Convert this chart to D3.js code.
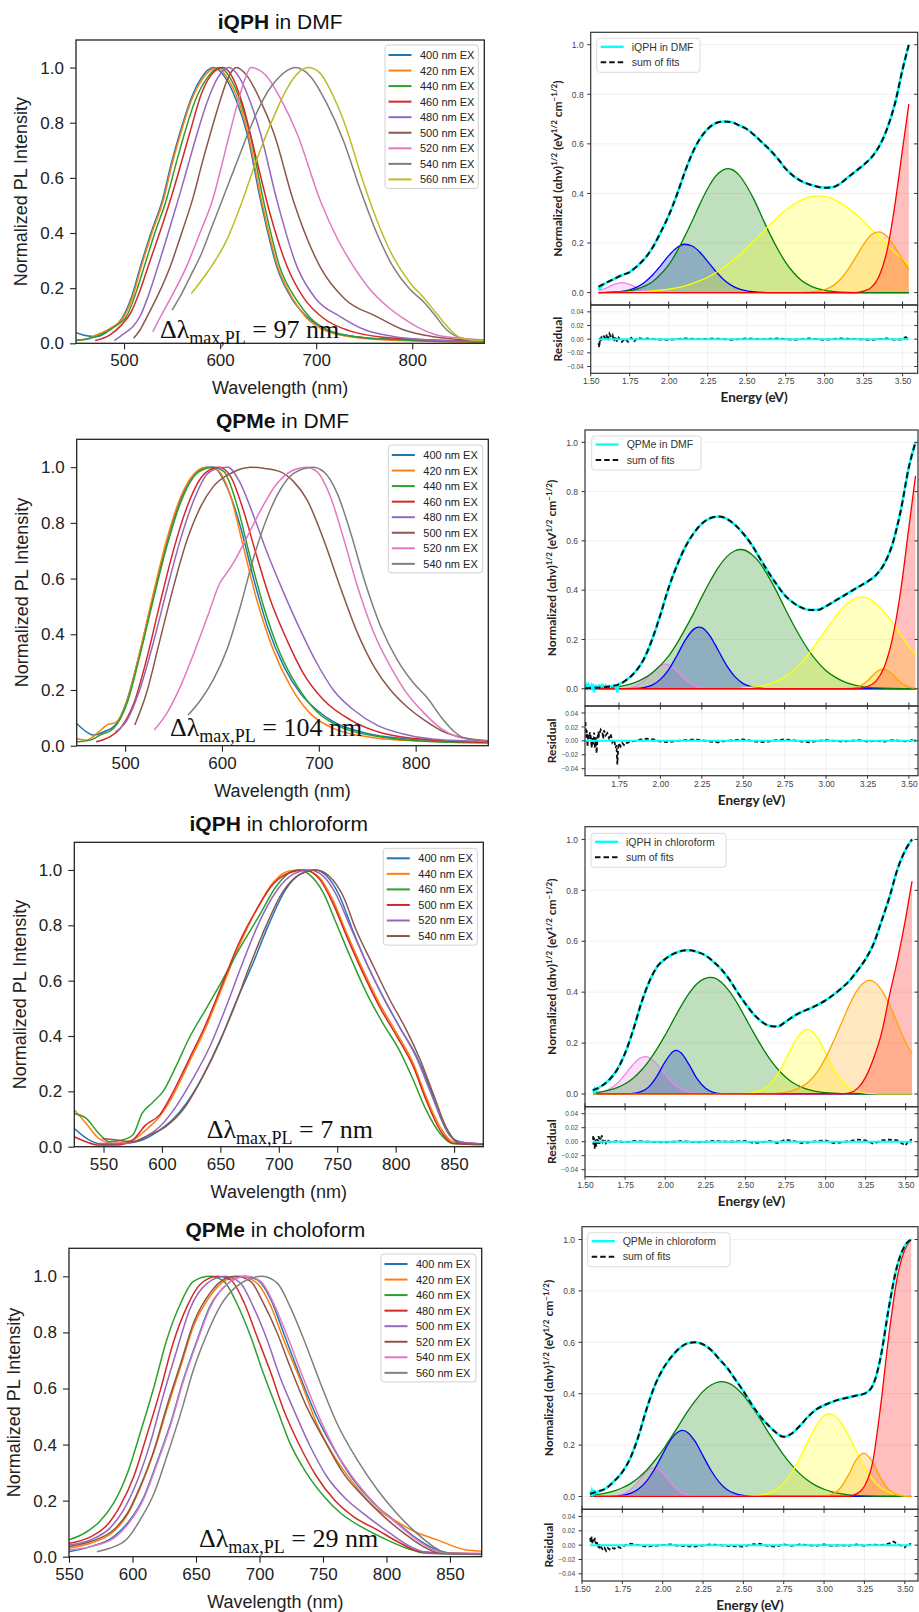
<!DOCTYPE html>
<html><head><meta charset="utf-8">
<script src="https://cdn.jsdelivr.net/npm/d3@7"></script>
<style>body{margin:0;background:#fff}</style>
</head><body>
<script>
// ---------- PL spectra (wavelength nm, normalized intensity) ----------
const iqphDmfLabels = ["400 nm EX","420 nm EX","440 nm EX","460 nm EX","480 nm EX","500 nm EX","520 nm EX","540 nm EX","560 nm EX"];
const iqphDmfSpectra = [
 [[450,0.038],[461,0.027],[471,0.024],[485,0.048],[499,0.097],[508,0.17],[517,0.278],[528,0.4],[540,0.52],[549,0.65],[558,0.762],[569,0.88],[580,0.96],[593,1.0],[604,0.97],[617,0.88],[628,0.762],[642,0.52],[659,0.278],[675,0.16],[690,0.097],[710,0.05],[735,0.027],[788,0.012],[875,0.006]],
 [[450,0.012],[460,0.015],[471,0.03],[486,0.055],[500,0.097],[509,0.17],[518,0.278],[529,0.4],[541,0.52],[550,0.65],[559,0.762],[570,0.88],[582,0.96],[597,1.0],[606,0.97],[619,0.88],[629,0.762],[643,0.52],[660,0.278],[676,0.16],[690,0.092],[710,0.045],[735,0.024],[788,0.01],[875,0.004]],
 [[450,0.01],[465,0.018],[475,0.03],[490,0.06],[503,0.1],[512,0.18],[521,0.278],[532,0.4],[544,0.52],[554,0.65],[563,0.762],[574,0.88],[586,0.96],[600,1.0],[609,0.97],[621,0.88],[631,0.762],[645,0.52],[662,0.278],[679,0.16],[694,0.092],[714,0.045],[740,0.024],[790,0.012],[875,0.005]],
 [[470,0.01],[485,0.03],[497,0.065],[507,0.11],[516,0.185],[525,0.278],[537,0.4],[550,0.54],[560,0.66],[569,0.77],[580,0.9],[590,0.97],[603,1.0],[612,0.97],[624,0.86],[638,0.665],[652,0.47],[669,0.285],[687,0.165],[708,0.09],[735,0.045],[770,0.022],[822,0.012],[875,0.008]],
 [[490,0.01],[500,0.035],[509,0.06],[517,0.1],[525,0.17],[534,0.265],[546,0.4],[558,0.54],[567,0.65],[576,0.76],[587,0.88],[597,0.96],[609,1.0],[619,0.97],[631,0.88],[642,0.762],[659,0.52],[680,0.278],[700,0.16],[725,0.097],[750,0.05],[780,0.025],[820,0.012],[875,0.006]],
 [[510,0.018],[517,0.05],[524,0.097],[536,0.18],[548,0.278],[560,0.4],[572,0.53],[581,0.65],[590,0.762],[600,0.88],[608,0.96],[617,1.0],[628,0.97],[642,0.88],[656,0.762],[676,0.52],[704,0.278],[730,0.16],[763,0.097],[790,0.05],[820,0.025],[850,0.014],[875,0.01]],
 [[530,0.042],[537,0.09],[551,0.18],[565,0.278],[579,0.4],[593,0.53],[602,0.65],[610,0.762],[619,0.88],[626,0.96],[632,1.0],[648,0.97],[664,0.88],[680,0.762],[704,0.52],[722,0.38],[739,0.278],[755,0.2],[772,0.14],[790,0.092],[806,0.058],[822,0.034],[850,0.018],[875,0.012]],
 [[550,0.12],[560,0.18],[570,0.25],[580,0.32],[590,0.41],[600,0.5],[610,0.59],[620,0.68],[630,0.77],[640,0.85],[650,0.915],[660,0.96],[670,0.99],[678,1.0],[694,0.968],[711,0.87],[728,0.738],[746,0.556],[763,0.4],[780,0.278],[798,0.194],[812,0.15],[824,0.1],[836,0.048],[850,0.02],[862,0.012],[875,0.01]],
 [[570,0.18],[586,0.254],[607,0.375],[621,0.496],[638,0.665],[656,0.823],[669,0.92],[683,0.986],[692,1.0],[704,0.98],[718,0.895],[732,0.774],[746,0.617],[763,0.448],[780,0.314],[798,0.218],[812,0.165],[826,0.105],[840,0.048],[850,0.02],[862,0.012],[875,0.01]]
];

const qpmeDmfLabels = ["400 nm EX","420 nm EX","440 nm EX","460 nm EX","480 nm EX","500 nm EX","520 nm EX","540 nm EX"];
const qpmeDmfSpectra = [
 [[450,0.08],[460,0.05],[467,0.038],[478,0.05],[490,0.074],[502,0.164],[515,0.332],[529,0.535],[543,0.727],[557,0.882],[571,0.972],[585,1.0],[591,1.0],[605,0.93],[619,0.787],[633,0.595],[647,0.427],[664,0.284],[681,0.188],[698,0.128],[715,0.086],[750,0.044],[785,0.026],[819,0.018],[875,0.012]],
 [[450,0.026],[460,0.02],[471,0.044],[481,0.074],[490,0.083],[502,0.16],[515,0.335],[529,0.545],[543,0.74],[557,0.89],[571,0.975],[583,1.0],[595,0.99],[609,0.895],[622,0.715],[636,0.523],[653,0.344],[671,0.212],[691,0.116],[715,0.062],[750,0.032],[785,0.02],[875,0.012]],
 [[450,0.014],[464,0.02],[474,0.038],[488,0.062],[502,0.152],[515,0.32],[529,0.523],[543,0.715],[557,0.87],[571,0.966],[584,0.996],[591,1.0],[602,0.984],[615,0.87],[629,0.679],[643,0.5],[660,0.332],[678,0.212],[698,0.122],[726,0.062],[767,0.03],[819,0.014],[875,0.01]],
 [[470,0.014],[484,0.032],[495,0.062],[509,0.152],[522,0.308],[536,0.511],[550,0.703],[564,0.858],[578,0.96],[591,0.996],[597,1.0],[609,0.966],[622,0.846],[636,0.679],[650,0.523],[667,0.38],[684,0.26],[705,0.164],[733,0.092],[767,0.044],[819,0.02],[875,0.012]],
 [[490,0.05],[502,0.092],[515,0.2],[529,0.368],[543,0.559],[557,0.739],[571,0.882],[584,0.972],[598,0.998],[606,1.0],[619,0.942],[633,0.822],[647,0.69],[664,0.547],[681,0.415],[698,0.296],[715,0.2],[736,0.128],[760,0.074],[785,0.044],[819,0.023],[875,0.015]],
 [[510,0.074],[522,0.188],[536,0.38],[550,0.571],[564,0.739],[578,0.858],[591,0.93],[609,0.978],[630,1.0],[643,0.996],[660,0.984],[674,0.948],[688,0.882],[705,0.739],[722,0.571],[740,0.404],[757,0.284],[774,0.2],[791,0.14],[809,0.092],[829,0.05],[847,0.03],[875,0.018]],
 [[530,0.056],[543,0.116],[557,0.212],[571,0.332],[585,0.463],[598,0.585],[606,0.625],[614,0.67],[626,0.75],[640,0.846],[657,0.942],[674,0.99],[687,1.0],[698,0.984],[712,0.894],[726,0.739],[740,0.571],[757,0.404],[774,0.284],[791,0.188],[809,0.116],[826,0.062],[843,0.032],[875,0.015]],
 [[565,0.11],[578,0.164],[591,0.236],[605,0.344],[619,0.5],[633,0.679],[647,0.822],[660,0.918],[674,0.978],[694,1.0],[705,0.984],[719,0.906],[733,0.763],[747,0.595],[764,0.427],[781,0.308],[798,0.224],[812,0.172],[826,0.104],[840,0.05],[850,0.028],[875,0.015]]
];

const iqphChlLabels = ["400 nm EX","440 nm EX","460 nm EX","500 nm EX","520 nm EX","540 nm EX"];
const iqphChlSpectra = [
 [[525,0.066],[538,0.024],[552,0.008],[569,0.012],[583,0.024],[598,0.06],[609,0.097],[621,0.157],[635,0.254],[649,0.374],[663,0.519],[678,0.664],[692,0.809],[706,0.93],[718,0.984],[731,1.0],[741,0.978],[752,0.906],[763,0.785],[775,0.664],[789,0.543],[803,0.435],[818,0.326],[829,0.217],[838,0.109],[846,0.042],[855,0.018],[875,0.01]],
 [[525,0.133],[535,0.085],[546,0.03],[558,0.012],[575,0.024],[586,0.06],[598,0.109],[609,0.181],[623,0.302],[638,0.435],[652,0.58],[666,0.725],[681,0.857],[695,0.954],[709,0.996],[721,1.0],[735,0.972],[746,0.894],[758,0.773],[772,0.64],[786,0.519],[801,0.41],[815,0.302],[826,0.181],[838,0.072],[849,0.018],[875,0.01]],
 [[525,0.12],[535,0.103],[546,0.048],[555,0.018],[566,0.024],[575,0.042],[583,0.12],[592,0.16],[601,0.2],[612,0.29],[623,0.39],[638,0.5],[652,0.604],[666,0.713],[683,0.833],[698,0.942],[712,0.996],[718,1.0],[726,0.984],[738,0.918],[749,0.809],[761,0.688],[775,0.556],[789,0.447],[803,0.35],[815,0.242],[826,0.133],[838,0.048],[849,0.012],[875,0.01]],
 [[525,0.036],[535,0.018],[546,0.006],[561,0.006],[575,0.024],[586,0.078],[598,0.115],[609,0.193],[623,0.314],[638,0.447],[652,0.592],[666,0.737],[681,0.857],[695,0.948],[709,0.99],[722,1.0],[735,0.966],[746,0.882],[758,0.761],[772,0.628],[786,0.507],[801,0.399],[815,0.29],[826,0.169],[838,0.06],[849,0.012],[875,0.008]],
 [[546,0.012],[569,0.012],[583,0.03],[598,0.072],[612,0.145],[626,0.242],[641,0.362],[655,0.507],[669,0.664],[683,0.809],[698,0.924],[712,0.984],[726,1.0],[738,0.978],[749,0.912],[761,0.797],[775,0.664],[789,0.543],[803,0.435],[818,0.32],[829,0.205],[841,0.085],[852,0.018],[875,0.01]],
 [[549,0.03],[561,0.024],[575,0.018],[589,0.042],[603,0.072],[618,0.133],[632,0.23],[646,0.35],[661,0.495],[675,0.652],[689,0.797],[703,0.918],[718,0.984],[732,1.0],[743,0.978],[755,0.906],[766,0.785],[781,0.652],[795,0.531],[809,0.423],[821,0.314],[832,0.193],[843,0.072],[855,0.012],[875,0.008]]
];

const qpmeChlLabels = ["400 nm EX","420 nm EX","460 nm EX","480 nm EX","500 nm EX","520 nm EX","540 nm EX","560 nm EX"];
const qpmeChlSpectra = [
 [[550,0.018],[567,0.036],[585,0.071],[598,0.131],[609,0.214],[619,0.333],[630,0.476],[640,0.631],[651,0.774],[661,0.893],[674,0.97],[688,1.0],[698,0.988],[709,0.917],[719,0.798],[732,0.643],[745,0.5],[759,0.381],[774,0.274],[790,0.19],[806,0.131],[822,0.071],[837,0.03],[851,0.012],[875,0.01]],
 [[550,0.03],[567,0.048],[585,0.089],[596,0.149],[606,0.244],[617,0.375],[627,0.524],[638,0.679],[648,0.821],[661,0.929],[674,0.988],[685,1.0],[698,0.976],[709,0.893],[719,0.774],[732,0.631],[745,0.476],[759,0.357],[774,0.262],[790,0.179],[806,0.131],[822,0.09],[840,0.06],[862,0.025],[875,0.02]],
 [[550,0.06],[564,0.089],[574,0.125],[585,0.19],[596,0.298],[606,0.44],[617,0.607],[627,0.774],[638,0.905],[648,0.982],[661,1.0],[672,0.982],[682,0.905],[693,0.786],[703,0.655],[714,0.524],[724,0.405],[737,0.298],[751,0.214],[764,0.155],[780,0.107],[798,0.065],[816,0.03],[832,0.012],[875,0.008]],
 [[550,0.048],[567,0.071],[580,0.113],[590,0.179],[601,0.286],[611,0.429],[622,0.595],[632,0.762],[643,0.893],[653,0.97],[667,1.0],[677,0.988],[688,0.905],[698,0.786],[709,0.655],[719,0.524],[732,0.393],[745,0.286],[759,0.202],[774,0.143],[793,0.095],[811,0.048],[827,0.018],[875,0.01]],
 [[550,0.042],[567,0.06],[582,0.101],[593,0.167],[603,0.262],[614,0.405],[624,0.571],[635,0.738],[645,0.881],[659,0.976],[673,1.0],[685,0.976],[695,0.893],[706,0.774],[716,0.643],[727,0.524],[740,0.393],[753,0.286],[769,0.202],[785,0.143],[803,0.083],[819,0.036],[835,0.012],[875,0.01]],
 [[550,0.036],[567,0.054],[585,0.095],[596,0.155],[606,0.25],[617,0.381],[627,0.536],[638,0.69],[648,0.833],[661,0.94],[674,0.994],[681,1.0],[693,0.982],[703,0.905],[714,0.798],[724,0.679],[737,0.536],[751,0.417],[766,0.298],[782,0.214],[798,0.143],[814,0.083],[829,0.036],[843,0.012],[875,0.01]],
 [[550,0.024],[567,0.036],[585,0.065],[598,0.125],[609,0.208],[619,0.327],[630,0.47],[640,0.625],[651,0.768],[661,0.887],[674,0.97],[690,1.0],[701,0.982],[711,0.905],[722,0.786],[735,0.631],[748,0.488],[761,0.369],[777,0.262],[793,0.179],[808,0.119],[824,0.06],[837,0.024],[850,0.012],[875,0.012]],
 [[572,0.018],[582,0.03],[596,0.065],[606,0.131],[617,0.226],[627,0.357],[638,0.512],[648,0.667],[659,0.798],[669,0.893],[682,0.964],[702,1.0],[714,0.976],[724,0.893],[735,0.774],[748,0.619],[761,0.476],[777,0.345],[793,0.238],[808,0.155],[824,0.083],[837,0.036],[848,0.012],[875,0.01]]
];

// ---------- Absorption (Tauc) fits: energy eV, normalized (ahv)^1/2 ----------
// band order: violet, blue, green, yellow, orange, red
const iqphDmfBands = [
 [[1.55,0.007],[1.60,0.018],[1.65,0.033],[1.70,0.04],[1.75,0.033],[1.80,0.018],[1.85,0.007],[1.90,0.002],[1.95,0],[3.54,0]],
 [[1.55,0],[1.65,0.002],[1.70,0.005],[1.75,0.011],[1.80,0.023],[1.85,0.044],[1.90,0.073],[1.95,0.11],[2.00,0.149],[2.05,0.18],[2.10,0.195],[2.15,0.188],[2.20,0.163],[2.25,0.126],[2.30,0.087],[2.35,0.054],[2.40,0.03],[2.45,0.015],[2.50,0.007],[2.55,0.003],[2.60,0.001],[2.65,0],[3.54,0]],
 [[1.55,0],[1.60,0.001],[1.70,0.004],[1.75,0.008],[1.80,0.015],[1.85,0.027],[1.90,0.046],[1.95,0.075],[2.00,0.112],[2.05,0.162],[2.10,0.223],[2.15,0.288],[2.20,0.357],[2.25,0.42],[2.30,0.469],[2.35,0.495],[2.38,0.5],[2.40,0.498],[2.45,0.475],[2.50,0.43],[2.55,0.372],[2.60,0.303],[2.65,0.235],[2.70,0.175],[2.75,0.122],[2.80,0.081],[2.85,0.05],[2.90,0.03],[2.95,0.017],[3.00,0.009],[3.05,0.005],[3.10,0.002],[3.20,0],[3.54,0]],
 [[1.55,0],[1.60,0],[1.70,0.001],[1.80,0.003],[1.90,0.007],[2.00,0.014],[2.10,0.026],[2.20,0.048],[2.25,0.062],[2.30,0.08],[2.35,0.1],[2.40,0.125],[2.45,0.151],[2.50,0.181],[2.55,0.211],[2.60,0.243],[2.65,0.274],[2.70,0.305],[2.75,0.332],[2.80,0.355],[2.85,0.373],[2.90,0.385],[2.95,0.39],[3.00,0.388],[3.05,0.379],[3.10,0.363],[3.15,0.342],[3.20,0.316],[3.25,0.288],[3.30,0.256],[3.35,0.225],[3.40,0.192],[3.45,0.163],[3.50,0.135],[3.54,0.114]],
 [[1.55,0],[2.85,0],[2.90,0.002],[2.95,0.005],[3.00,0.012],[3.05,0.026],[3.10,0.053],[3.15,0.093],[3.20,0.143],[3.25,0.195],[3.30,0.233],[3.345,0.245],[3.40,0.227],[3.45,0.185],[3.50,0.132],[3.54,0.093]],
 [[1.55,0],[3.20,0],[3.25,0.006],[3.30,0.021],[3.35,0.067],[3.40,0.168],[3.45,0.35],[3.50,0.58],[3.54,0.76]]
];
const iqphDmfFit = [[1.55,0.024],[1.60,0.04],[1.65,0.055],[1.70,0.07],[1.75,0.083],[1.80,0.108],[1.85,0.14],[1.90,0.185],[1.95,0.245],[2.00,0.31],[2.05,0.39],[2.10,0.48],[2.15,0.56],[2.20,0.62],[2.25,0.66],[2.30,0.683],[2.35,0.69],[2.40,0.688],[2.45,0.675],[2.50,0.66],[2.55,0.635],[2.60,0.605],[2.65,0.575],[2.70,0.54],[2.75,0.5],[2.80,0.47],[2.85,0.45],[2.90,0.437],[2.95,0.428],[3.00,0.423],[3.05,0.425],[3.10,0.44],[3.15,0.465],[3.20,0.49],[3.25,0.515],[3.30,0.545],[3.35,0.59],[3.40,0.66],[3.45,0.76],[3.50,0.9],[3.54,1.0]];
const iqphDmfDataHead = [[1.55,0.012],[1.555,0.02],[1.56,0.016],[1.57,0.026],[1.58,0.03],[1.59,0.036]];
const iqphDmfResidual = [[1.55,-0.006],[1.555,-0.012],[1.56,0.002],[1.565,-0.004],[1.57,0.004],[1.58,0.006],[1.59,0.002],[1.60,0.007],[1.61,-0.002],[1.62,0.008],[1.63,0.003],[1.64,0.006],[1.65,-0.003],[1.66,0.004],[1.67,-0.004],[1.68,0.002],[1.69,-0.002],[1.70,-0.004],[1.72,0.001],[1.74,-0.004],[1.76,0.002],[1.78,-0.003],[1.80,0.002],[1.82,0.001],[1.84,-0.001],[1.86,0.001],[1.90,0],[2.0,-0.001],[2.1,0.001],[2.2,0],[2.3,0.001],[2.4,-0.001],[2.5,0.001],[2.6,0],[2.7,0.001],[2.8,-0.001],[2.9,0.001],[3.0,-0.001],[3.1,0.001],[3.2,0],[3.3,-0.001],[3.4,0.001],[3.45,-0.001],[3.5,0],[3.52,0.003],[3.54,0]];

const qpmeDmfBands = [
 [[1.545,0],[1.75,0],[1.80,0.0025],[1.85,0.011],[1.90,0.031],[1.95,0.064],[2.00,0.094],[2.03,0.1],[2.05,0.097],[2.10,0.071],[2.15,0.037],[2.20,0.014],[2.25,0.004],[2.30,0.001],[2.35,0],[3.54,0]],
 [[1.545,0],[1.80,0],[1.85,0.0015],[1.90,0.005],[1.95,0.015],[2.00,0.038],[2.05,0.078],[2.10,0.135],[2.15,0.197],[2.20,0.241],[2.233,0.25],[2.25,0.248],[2.30,0.214],[2.35,0.155],[2.40,0.095],[2.45,0.049],[2.50,0.021],[2.55,0.008],[2.60,0.002],[2.65,0],[3.54,0]],
 [[1.545,0],[1.60,0.0015],[1.70,0.005],[1.75,0.009],[1.80,0.016],[1.85,0.026],[1.90,0.042],[1.95,0.064],[2.00,0.095],[2.05,0.133],[2.10,0.184],[2.15,0.243],[2.20,0.305],[2.25,0.373],[2.30,0.436],[2.35,0.493],[2.40,0.535],[2.45,0.56],[2.484,0.565],[2.50,0.564],[2.55,0.546],[2.60,0.511],[2.65,0.458],[2.70,0.397],[2.75,0.329],[2.80,0.264],[2.85,0.204],[2.90,0.151],[2.95,0.108],[3.00,0.073],[3.05,0.049],[3.10,0.031],[3.15,0.019],[3.20,0.011],[3.25,0.006],[3.30,0.0035],[3.40,0.001],[3.54,0]],
 [[1.545,0],[2.45,0],[2.50,0.003],[2.55,0.006],[2.60,0.01],[2.65,0.018],[2.70,0.03],[2.75,0.048],[2.80,0.074],[2.85,0.105],[2.90,0.146],[2.95,0.192],[3.00,0.241],[3.05,0.287],[3.10,0.328],[3.15,0.357],[3.215,0.372],[3.25,0.368],[3.30,0.347],[3.35,0.312],[3.40,0.27],[3.45,0.221],[3.50,0.172],[3.54,0.138]],
 [[1.545,0],[3.10,0],[3.15,0.002],[3.20,0.009],[3.25,0.032],[3.30,0.066],[3.345,0.081],[3.40,0.059],[3.45,0.026],[3.50,0.007],[3.54,0.002]],
 [[1.545,0],[3.15,0],[3.20,0.002],[3.25,0.009],[3.30,0.03],[3.35,0.086],[3.40,0.202],[3.45,0.395],[3.50,0.655],[3.54,0.864]]
];
const qpmeDmfFit = [[1.545,0.002],[1.60,0.004],[1.65,0.006],[1.70,0.01],[1.75,0.018],[1.80,0.038],[1.85,0.07],[1.90,0.12],[1.95,0.2],[2.00,0.3],[2.05,0.41],[2.10,0.5],[2.15,0.575],[2.20,0.63],[2.25,0.67],[2.30,0.692],[2.35,0.699],[2.40,0.69],[2.45,0.665],[2.50,0.63],[2.55,0.585],[2.60,0.53],[2.65,0.475],[2.70,0.425],[2.75,0.38],[2.80,0.35],[2.85,0.33],[2.90,0.32],[2.95,0.32],[3.00,0.335],[3.05,0.355],[3.10,0.375],[3.15,0.395],[3.20,0.415],[3.25,0.435],[3.30,0.46],[3.35,0.505],[3.40,0.585],[3.45,0.72],[3.50,0.9],[3.54,1.0]];
const qpmeDmfDataHead = [[1.545,0.02],[1.55,0.008],[1.555,0.015],[1.56,0.004],[1.565,0.012],[1.57,-0.005],[1.575,0.01],[1.58,0.006],[1.585,0.014],[1.59,0.004],[1.595,0.01],[1.60,-0.015],[1.605,0.008],[1.61,0.012],[1.62,0.004],[1.63,0.014],[1.64,0.01],[1.65,0.016],[1.66,0.008],[1.67,0.014],[1.68,0.01],[1.69,0.012],[1.70,0.008],[1.71,0.012],[1.72,0.01],[1.73,0.006],[1.74,-0.015],[1.745,0.012],[1.75,0.02],[1.77,0.024]];
const qpmeDmfResidual = [[1.548,0.027],[1.552,0.005],[1.556,0.015],[1.56,-0.008],[1.565,0.01],[1.57,0.003],[1.575,0.012],[1.58,0.006],[1.585,-0.01],[1.59,0.004],[1.595,-0.005],[1.60,0.012],[1.605,-0.01],[1.61,0.005],[1.615,-0.018],[1.62,0.002],[1.625,0.013],[1.63,0.008],[1.64,0.016],[1.65,0.012],[1.655,0.003],[1.66,0.015],[1.67,0.008],[1.68,0.011],[1.69,0.004],[1.70,0.01],[1.71,-0.002],[1.72,0.002],[1.73,-0.01],[1.735,-0.006],[1.74,-0.034],[1.745,-0.012],[1.75,-0.003],[1.76,-0.008],[1.77,-0.003],[1.78,-0.006],[1.79,-0.002],[1.80,-0.003],[1.82,-0.001],[1.85,0],[1.88,0.002],[1.92,0.003],[1.96,0.002],[2.0,-0.001],[2.05,-0.002],[2.1,0],[2.15,0.001],[2.2,0.002],[2.25,0.001],[2.3,-0.001],[2.35,-0.002],[2.4,0],[2.45,0.001],[2.5,0.002],[2.55,0],[2.6,-0.002],[2.65,-0.001],[2.7,0.001],[2.75,0.002],[2.8,0.001],[2.85,-0.001],[2.9,-0.002],[2.95,0],[3.0,0.001],[3.05,0],[3.1,-0.001],[3.15,0],[3.2,0.001],[3.25,-0.001],[3.3,0],[3.35,-0.001],[3.4,0.001],[3.45,0],[3.5,-0.001],[3.53,0.003],[3.54,-0.001]];

const iqphChlBands = [
 [[1.55,0.002],[1.60,0.006],[1.65,0.018],[1.70,0.041],[1.75,0.077],[1.80,0.116],[1.85,0.143],[1.875,0.147],[1.90,0.143],[1.95,0.116],[2.00,0.077],[2.05,0.041],[2.10,0.018],[2.15,0.006],[2.20,0.002],[2.25,0],[3.54,0]],
 [[1.55,0],[1.75,0],[1.80,0.002],[1.85,0.009],[1.90,0.029],[1.95,0.071],[2.00,0.127],[2.05,0.167],[2.069,0.171],[2.10,0.161],[2.15,0.114],[2.20,0.059],[2.25,0.023],[2.30,0.006],[2.35,0.0013],[2.40,0],[3.54,0]],
 [[1.55,0.0045],[1.60,0.008],[1.65,0.015],[1.70,0.025],[1.75,0.04],[1.80,0.062],[1.85,0.092],[1.90,0.131],[1.95,0.178],[2.00,0.231],[2.05,0.289],[2.10,0.346],[2.15,0.396],[2.20,0.434],[2.25,0.454],[2.28,0.458],[2.30,0.457],[2.35,0.439],[2.40,0.404],[2.45,0.356],[2.50,0.3],[2.55,0.243],[2.60,0.189],[2.65,0.14],[2.70,0.099],[2.75,0.067],[2.80,0.043],[2.85,0.027],[2.90,0.016],[2.95,0.009],[3.00,0.005],[3.10,0.001],[3.20,0],[3.54,0]],
 [[1.55,0],[2.45,0],[2.50,0.0014],[2.55,0.005],[2.60,0.015],[2.65,0.036],[2.70,0.075],[2.75,0.133],[2.80,0.195],[2.85,0.242],[2.887,0.254],[2.90,0.252],[2.95,0.221],[3.00,0.163],[3.05,0.101],[3.10,0.053],[3.15,0.023],[3.20,0.009],[3.25,0.003],[3.30,0.001],[3.35,0],[3.54,0]],
 [[1.55,0],[2.65,0],[2.70,0.003],[2.75,0.006],[2.80,0.014],[2.85,0.028],[2.90,0.051],[2.95,0.088],[3.00,0.141],[3.05,0.207],[3.10,0.279],[3.15,0.351],[3.20,0.41],[3.25,0.442],[3.274,0.446],[3.30,0.442],[3.35,0.408],[3.40,0.349],[3.45,0.276],[3.50,0.202],[3.54,0.16]],
 [[1.55,0],[3.10,0],[3.15,0.004],[3.20,0.022],[3.25,0.065],[3.30,0.14],[3.35,0.24],[3.40,0.39],[3.45,0.53],[3.50,0.69],[3.54,0.836]]
];
const iqphChlFit = [[1.55,0.015],[1.60,0.03],[1.65,0.055],[1.70,0.095],[1.75,0.16],[1.80,0.25],[1.85,0.355],[1.90,0.44],[1.95,0.5],[2.00,0.53],[2.05,0.55],[2.10,0.562],[2.15,0.565],[2.20,0.558],[2.25,0.545],[2.30,0.52],[2.35,0.49],[2.40,0.45],[2.45,0.4],[2.50,0.355],[2.55,0.315],[2.60,0.285],[2.65,0.268],[2.70,0.265],[2.75,0.283],[2.80,0.305],[2.85,0.322],[2.90,0.335],[2.95,0.35],[3.00,0.368],[3.05,0.39],[3.10,0.415],[3.15,0.445],[3.20,0.485],[3.25,0.53],[3.30,0.59],[3.35,0.68],[3.40,0.775],[3.45,0.885],[3.50,0.96],[3.54,1.0]];
const iqphChlDataHead = [[1.55,0.02],[1.555,0.008],[1.56,0.018],[1.565,0.01],[1.57,0.02],[1.58,0.018],[1.59,0.026]];
const iqphChlResidual = [[1.55,0.008],[1.553,-0.004],[1.556,0.006],[1.56,-0.01],[1.565,0.003],[1.57,-0.007],[1.575,0.005],[1.58,-0.004],[1.585,0.008],[1.59,-0.003],[1.595,0.006],[1.60,0.003],[1.605,0.009],[1.61,0],[1.62,0.004],[1.63,-0.002],[1.64,0.002],[1.66,-0.001],[1.70,0.001],[1.75,-0.001],[1.8,0.001],[1.9,0],[2.0,-0.001],[2.1,0.001],[2.2,-0.001],[2.3,0.001],[2.4,0],[2.5,0.001],[2.55,-0.002],[2.6,-0.001],[2.65,0.001],[2.7,-0.002],[2.75,0.003],[2.8,0.001],[2.85,-0.002],[2.9,-0.001],[2.95,0.001],[3.0,0.002],[3.05,-0.002],[3.1,-0.001],[3.15,0.001],[3.2,0.003],[3.25,0.002],[3.3,-0.003],[3.35,0.002],[3.4,0.003],[3.45,0.002],[3.48,-0.003],[3.5,-0.005],[3.52,0.002],[3.54,0.003]];

const qpmeChlBands = [
 [[1.55,0],[1.65,0],[1.70,0.002],[1.75,0.008],[1.80,0.026],[1.85,0.059],[1.90,0.097],[1.946,0.112],[2.00,0.092],[2.05,0.053],[2.10,0.022],[2.15,0.006],[2.20,0.001],[2.25,0],[3.54,0]],
 [[1.55,0],[1.65,0.0004],[1.70,0.0013],[1.75,0.004],[1.80,0.012],[1.85,0.029],[1.90,0.06],[1.95,0.107],[2.00,0.165],[2.05,0.221],[2.10,0.253],[2.122,0.257],[2.15,0.251],[2.20,0.215],[2.25,0.158],[2.30,0.101],[2.35,0.056],[2.40,0.026],[2.45,0.011],[2.50,0.004],[2.55,0.001],[2.60,0],[3.54,0]],
 [[1.55,0.005],[1.60,0.008],[1.65,0.014],[1.70,0.022],[1.75,0.034],[1.80,0.05],[1.85,0.073],[1.90,0.102],[1.95,0.139],[2.00,0.18],[2.05,0.228],[2.10,0.277],[2.15,0.327],[2.20,0.371],[2.25,0.409],[2.30,0.434],[2.35,0.446],[2.364,0.447],[2.40,0.443],[2.45,0.425],[2.50,0.394],[2.55,0.352],[2.60,0.306],[2.65,0.254],[2.70,0.207],[2.75,0.161],[2.80,0.122],[2.85,0.088],[2.90,0.062],[2.95,0.042],[3.00,0.028],[3.05,0.018],[3.10,0.011],[3.15,0.006],[3.20,0.004],[3.30,0.001],[3.40,0],[3.54,0]],
 [[1.55,0],[2.50,0],[2.55,0.002],[2.60,0.005],[2.65,0.012],[2.70,0.027],[2.75,0.053],[2.80,0.094],[2.85,0.151],[2.90,0.215],[2.95,0.274],[3.00,0.314],[3.035,0.322],[3.05,0.32],[3.10,0.293],[3.15,0.239],[3.20,0.176],[3.25,0.116],[3.30,0.067],[3.35,0.035],[3.40,0.017],[3.45,0.007],[3.50,0.003],[3.54,0.001]],
 [[1.55,0],[2.95,0],[3.00,0.0015],[3.05,0.008],[3.10,0.032],[3.15,0.082],[3.20,0.143],[3.246,0.169],[3.30,0.135],[3.35,0.073],[3.40,0.027],[3.45,0.007],[3.50,0.001],[3.54,0]],
 [[1.55,0],[3.15,0],[3.20,0.01],[3.25,0.04],[3.30,0.13],[3.35,0.35],[3.40,0.62],[3.45,0.84],[3.50,0.96],[3.54,1.0]]
];
const qpmeChlFit = [[1.55,0.01],[1.60,0.02],[1.65,0.032],[1.70,0.06],[1.75,0.095],[1.80,0.15],[1.85,0.235],[1.90,0.34],[1.95,0.43],[2.00,0.495],[2.05,0.54],[2.10,0.575],[2.15,0.595],[2.20,0.6],[2.25,0.592],[2.30,0.57],[2.35,0.535],[2.40,0.5],[2.45,0.455],[2.50,0.41],[2.55,0.36],[2.60,0.315],[2.65,0.28],[2.70,0.25],[2.75,0.232],[2.80,0.245],[2.85,0.275],[2.90,0.31],[2.95,0.338],[3.00,0.355],[3.05,0.368],[3.10,0.378],[3.15,0.385],[3.20,0.393],[3.25,0.4],[3.30,0.43],[3.35,0.54],[3.40,0.73],[3.45,0.89],[3.50,0.975],[3.54,1.0]];
const qpmeChlDataHead = [[1.55,0.02],[1.555,0.012],[1.56,0.022],[1.565,0.01],[1.57,0.018],[1.575,0.012],[1.58,0.02],[1.59,0.014],[1.60,0.02],[1.62,0.022]];
const qpmeChlResidual = [[1.55,0.01],[1.555,0.004],[1.56,0.012],[1.565,0.002],[1.57,0.008],[1.575,0.004],[1.58,0.01],[1.585,0.002],[1.59,0.006],[1.60,-0.004],[1.605,0.003],[1.61,-0.006],[1.62,-0.003],[1.63,-0.007],[1.64,-0.004],[1.65,-0.008],[1.66,-0.004],[1.67,-0.006],[1.68,-0.003],[1.70,-0.005],[1.72,-0.002],[1.74,-0.004],[1.76,-0.001],[1.78,0.001],[1.80,0.002],[1.85,0],[1.9,-0.002],[1.95,-0.001],[2.0,0],[2.05,0.001],[2.1,-0.001],[2.2,-0.002],[2.3,0.001],[2.4,-0.001],[2.5,-0.002],[2.55,0.001],[2.6,0.002],[2.65,-0.001],[2.7,-0.002],[2.75,0.001],[2.8,-0.001],[2.85,0.001],[2.9,0],[2.95,-0.001],[3.0,0.001],[3.05,-0.001],[3.1,0],[3.15,-0.001],[3.2,0.001],[3.25,-0.001],[3.3,0.001],[3.35,0],[3.4,0.002],[3.43,0.005],[3.46,0.001],[3.5,-0.003],[3.52,0.002],[3.54,0.001]];

// ---------- tick values ----------
const plYTicks = [0, 0.2, 0.4, 0.6, 0.8, 1.0];
const absYTicks = [0, 0.2, 0.4, 0.6, 0.8, 1.0];
const resYTicks = [-0.04, -0.02, 0, 0.02, 0.04];
const energyTicks = [1.5, 1.75, 2.0, 2.25, 2.5, 2.75, 3.0, 3.25, 3.5];

// ---------- styles ----------
const tab10 = ["#1f77b4","#ff7f0e","#2ca02c","#d62728","#9467bd","#8c564b","#e377c2","#7f7f7f","#bcbd22"];
const bandColors = ["violet","blue","green","yellow","orange","red"];
const SANS = "'Liberation Sans', Arial, Helvetica, sans-serif";
const ROUND = "Lato, 'Open Sans', 'Liberation Sans', sans-serif";
const SERIF = "'Liberation Serif', 'Times New Roman', serif";

const svg = d3.select("body").append("svg").attr("width", 919).attr("height", 1612).style("display", "block");
const defs = svg.append("defs");
let clipCount = 0;
function clipRect(x, y, w, h) {
  const id = "clip" + (clipCount++);
  defs.append("clipPath").attr("id", id).append("rect").attr("x", x).attr("y", y).attr("width", w).attr("height", h);
  return `url(#${id})`;
}

function styleAxis(a, size, color, family) {
  a.select(".domain").remove();
  a.selectAll("text").attr("font-size", size).attr("font-family", family).attr("fill", color);
  a.selectAll("line").attr("stroke", color).attr("stroke-width", 1.1);
}

// ---------- photoluminescence panel ----------
function plPanel(L, spectra, labels, title, delta) {
  const x = d3.scaleLinear().domain(L.xDomain).range([L.x0, L.x1]);
  const y = d3.scaleLinear().domain([0, 1.1]).range([L.y1, L.y0]);
  const g = svg.append("g");
  const line = d3.line().x(d => x(d[0])).y(d => y(d[1])).curve(d3.curveMonotoneX);
  const lines = g.append("g").attr("clip-path", clipRect(L.x0, L.y0, L.x1 - L.x0, L.y1 - L.y0));
  spectra.forEach((s, i) => lines.append("path").attr("d", line(s))
    .attr("fill", "none").attr("stroke", tab10[i]).attr("stroke-width", 1.5));

  g.append("rect").attr("x", L.x0).attr("y", L.y0).attr("width", L.x1 - L.x0).attr("height", L.y1 - L.y0)
    .attr("fill", "none").attr("stroke", "#222").attr("stroke-width", 1.3);

  const ax = g.append("g").attr("transform", `translate(0,${L.y1})`)
    .call(d3.axisBottom(x).tickValues(L.xTicks).tickFormat(d3.format("d")).tickSize(6).tickPadding(5));
  const ay = g.append("g").attr("transform", `translate(${L.x0},0)`)
    .call(d3.axisLeft(y).tickValues(plYTicks).tickFormat(d3.format(".1f")).tickSize(6).tickPadding(6));
  styleAxis(ax, 17, "#222", SANS);
  styleAxis(ay, 17, "#222", SANS);

  // title
  const t = g.append("text").attr("x", (L.x0 + L.x1) / 2).attr("y", L.y0 - 11)
    .attr("text-anchor", "middle").attr("font-family", SANS).attr("font-size", 21).attr("fill", "#111");
  t.append("tspan").attr("font-weight", "bold").text(title[0]);
  t.append("tspan").text(title[1]);

  // axis labels
  g.append("text").attr("x", (L.x0 + L.x1) / 2).attr("y", L.y1 + 51).attr("text-anchor", "middle")
    .attr("font-family", SANS).attr("font-size", 18).attr("fill", "#222").text("Wavelength (nm)");
  g.append("text").attr("transform", `translate(${L.x0 - 55},${(L.y0 + L.y1) / 2}) rotate(-90)`)
    .attr("text-anchor", "middle").attr("dy", "0.35em")
    .attr("font-family", SANS).attr("font-size", 18).attr("fill", "#222").text("Normalized PL Intensity");

  // legend
  const [lx, ly, lw] = L.legend;
  const lg = g.append("g").attr("transform", `translate(${lx},${ly})`);
  lg.append("rect").attr("width", lw).attr("height", labels.length * 15.55 + 3.5).attr("rx", 3)
    .attr("fill", "white").attr("fill-opacity", 0.85).attr("stroke", "#d0d0d0");
  labels.forEach((lab, i) => {
    const cy = 10 + i * 15.55;
    lg.append("line").attr("x1", 3.5).attr("x2", 26.5).attr("y1", cy).attr("y2", cy)
      .attr("stroke", tab10[i]).attr("stroke-width", 2);
    lg.append("text").attr("x", 35).attr("y", cy).attr("dy", "0.36em")
      .attr("font-family", SANS).attr("font-size", 11).attr("fill", "#222").text(lab);
  });

  // shift annotation
  const dt = g.append("text").attr("x", L.delta[0]).attr("y", L.delta[1])
    .attr("font-family", SERIF).attr("font-size", 26).attr("fill", "#111");
  dt.append("tspan").text("Δλ");
  dt.append("tspan").attr("font-size", 18).attr("dy", 6).text("max,PL");
  dt.append("tspan").attr("dy", -6).text(" = " + delta + " nm");
}

// ---------- absorption fit panel with residuals ----------
function absPanel(R, bands, fit, dataHead, residual, name) {
  const x = d3.scaleLinear().domain(R.xDomain).range([R.x0, R.x1]);
  const y = d3.scaleLinear().domain(R.yDomain).range([R.ym, R.y0]);
  const yr = d3.scaleLinear().domain([-0.05, 0.05]).range([R.y1, R.ym]);
  const g = svg.append("g");
  const xt = energyTicks.filter(v => v >= R.xDomain[0] - 1e-6 && v <= R.xDomain[1]);

  // grid
  const grid = g.append("g").attr("stroke", "#ececec").attr("stroke-width", 0.8);
  absYTicks.forEach(v => grid.append("line").attr("x1", R.x0).attr("x2", R.x1).attr("y1", y(v)).attr("y2", y(v)));
  resYTicks.forEach(v => grid.append("line").attr("x1", R.x0).attr("x2", R.x1).attr("y1", yr(v)).attr("y2", yr(v)));
  xt.forEach(v => grid.append("line").attr("x1", x(v)).attr("x2", x(v)).attr("y1", R.ym).attr("y2", R.y1));

  const main = g.append("g").attr("clip-path", clipRect(R.x0, R.y0, R.x1 - R.x0, R.ym - R.y0));
  const area = d3.area().x(d => x(d[0])).y0(y(0)).y1(d => y(d[1])).curve(d3.curveMonotoneX);
  const line = d3.line().x(d => x(d[0])).y(d => y(d[1])).curve(d3.curveMonotoneX);
  bands.forEach((b, i) => main.append("path").attr("d", area(b)).attr("fill", bandColors[i]).attr("fill-opacity", 0.25));
  bands.forEach((b, i) => main.append("path").attr("d", line(b)).attr("fill", "none")
    .attr("stroke", bandColors[i]).attr("stroke-width", 1.3));

  const lastHead = dataHead[dataHead.length - 1][0];
  const measured = dataHead.concat(fit.filter(d => d[0] > lastHead));
  main.append("path").attr("d", d3.line().x(d => x(d[0])).y(d => y(d[1]))(measured.slice(0, dataHead.length + 1)))
    .attr("fill", "none").attr("stroke", "cyan").attr("stroke-width", 2.4);
  main.append("path").attr("d", line(measured.slice(dataHead.length)))
    .attr("fill", "none").attr("stroke", "cyan").attr("stroke-width", 2.6);
  main.append("path").attr("d", line(fit)).attr("fill", "none").attr("stroke", "#111")
    .attr("stroke-width", 2).attr("stroke-dasharray", "6,3.5");

  // residual
  const res = g.append("g").attr("clip-path", clipRect(R.x0, R.ym, R.x1 - R.x0, R.y1 - R.ym));
  res.append("path").attr("d", d3.line().x(d => x(d[0])).y(d => yr(d[1]))(residual))
    .attr("fill", "none").attr("stroke", "#111").attr("stroke-width", 1.8).attr("stroke-dasharray", "4,2.5");
  const e0 = residual[0][0], e1 = residual[residual.length - 1][0];
  res.append("line").attr("x1", x(e0)).attr("x2", x(e1)).attr("y1", yr(0)).attr("y2", yr(0))
    .attr("stroke", "cyan").attr("stroke-width", 2);

  // frames
  [[R.y0, R.ym], [R.ym, R.y1]].forEach(([a, b]) => g.append("rect").attr("x", R.x0).attr("y", a)
    .attr("width", R.x1 - R.x0).attr("height", b - a).attr("fill", "none").attr("stroke", "#333").attr("stroke-width", 1.2));

  // ticks
  const tk = g.append("g").attr("stroke", "#333").attr("stroke-width", 1);
  xt.forEach(v => {
    tk.append("line").attr("x1", x(v)).attr("x2", x(v)).attr("y1", R.ym - 3.5).attr("y2", R.ym + 3.5);
    tk.append("line").attr("x1", x(v)).attr("x2", x(v)).attr("y1", R.y1).attr("y2", R.y1 + 3);
  });
  absYTicks.forEach(v => {
    tk.append("line").attr("x1", R.x0 - 3.5).attr("x2", R.x0).attr("y1", y(v)).attr("y2", y(v));
    tk.append("line").attr("x1", R.x1 - 3.5).attr("x2", R.x1).attr("y1", y(v)).attr("y2", y(v));
  });
  resYTicks.forEach(v => {
    tk.append("line").attr("x1", R.x0 - 3.5).attr("x2", R.x0).attr("y1", yr(v)).attr("y2", yr(v));
    tk.append("line").attr("x1", R.x1 - 3.5).attr("x2", R.x1).attr("y1", yr(v)).attr("y2", yr(v));
  });

  const ax = g.append("g").attr("transform", `translate(0,${R.y1})`)
    .call(d3.axisBottom(x).tickValues(xt).tickFormat(d3.format(".2f")).tickSize(0).tickPadding(5));
  const ay = g.append("g").attr("transform", `translate(${R.x0},0)`)
    .call(d3.axisLeft(y).tickValues(absYTicks).tickFormat(d3.format(".1f")).tickSize(0).tickPadding(7));
  const ayr = g.append("g").attr("transform", `translate(${R.x0},0)`)
    .call(d3.axisLeft(yr).tickValues(resYTicks).tickFormat(d3.format(".2f")).tickSize(0).tickPadding(7));
  styleAxis(ax, 8.5, "#444", SANS);
  styleAxis(ay, 8.5, "#444", SANS);
  styleAxis(ayr, 6.5, "#444", SANS);

  // labels
  const yl = g.append("text").attr("transform", `translate(${R.x0 - 29},${(R.y0 + R.ym) / 2}) rotate(-90)`)
    .attr("text-anchor", "middle").attr("font-family", ROUND).attr("font-weight", "bold")
    .attr("font-size", 12).attr("fill", "#222");
  yl.append("tspan").text("Normalized (αhν)");
  yl.append("tspan").attr("font-size", 8).attr("dy", -4.5).text("1/2");
  yl.append("tspan").attr("dy", 4.5).text(" (eV");
  yl.append("tspan").attr("font-size", 8).attr("dy", -4.5).text("1/2");
  yl.append("tspan").attr("dy", 4.5).text(" cm");
  yl.append("tspan").attr("font-size", 8).attr("dy", -4.5).text("−1/2");
  yl.append("tspan").attr("dy", 4.5).text(")");

  g.append("text").attr("transform", `translate(${R.x0 - 33},${(R.ym + R.y1) / 2}) rotate(-90)`)
    .attr("text-anchor", "middle").attr("dy", "0.35em").attr("font-family", ROUND).attr("font-weight", "bold")
    .attr("font-size", 12).attr("fill", "#222").text("Residual");
  g.append("text").attr("x", (R.x0 + R.x1) / 2).attr("y", R.y1 + 29).attr("text-anchor", "middle")
    .attr("font-family", ROUND).attr("font-weight", "bold").attr("font-size", 13.5).attr("fill", "#222").text("Energy (eV)");

  // legend
  const [lx, ly, lw] = R.legend;
  const lg = g.append("g").attr("transform", `translate(${lx},${ly})`);
  lg.append("rect").attr("width", lw).attr("height", 34).attr("rx", 3)
    .attr("fill", "white").attr("fill-opacity", 0.85).attr("stroke", "#dcdcdc");
  lg.append("line").attr("x1", 4).attr("x2", 27).attr("y1", 8.5).attr("y2", 8.5).attr("stroke", "cyan").attr("stroke-width", 2.4);
  lg.append("line").attr("x1", 4).attr("x2", 27).attr("y1", 24).attr("y2", 24).attr("stroke", "#111")
    .attr("stroke-width", 2).attr("stroke-dasharray", "5.5,3");
  [name, "sum of fits"].forEach((s, i) => lg.append("text").attr("x", 35).attr("y", i ? 24 : 8.5).attr("dy", "0.36em")
    .attr("font-family", SANS).attr("font-size", 10.5).attr("fill", "#333").text(s));
}

// ---------- layout ----------
const xTicksWide = [500, 600, 700, 800];
const xTicksNarrow = [550, 600, 650, 700, 750, 800, 850];

plPanel({x0: 76, y0: 40, x1: 484.3, y1: 343.3, xDomain: [450, 875], xTicks: xTicksWide, legend: [385, 45, 93.3], delta: [160, 337.5]},
  iqphDmfSpectra, iqphDmfLabels, ["iQPH", " in DMF"], "97");
plPanel({x0: 76.7, y0: 439.3, x1: 488.3, y1: 745.7, xDomain: [450, 875], xTicks: xTicksWide, legend: [388.3, 445, 94.4], delta: [170, 736]},
  qpmeDmfSpectra, qpmeDmfLabels, ["QPMe", " in DMF"], "104");
plPanel({x0: 74.3, y0: 842.3, x1: 483.3, y1: 1146.7, xDomain: [525, 875], xTicks: xTicksNarrow, legend: [383.3, 848.3, 94], delta: [206.7, 1138]},
  iqphChlSpectra, iqphChlLabels, ["iQPH", " in chloroform"], "7");
plPanel({x0: 69, y0: 1248.3, x1: 481.7, y1: 1556.7, xDomain: [550, 875], xTicks: xTicksNarrow, legend: [381, 1254, 95], delta: [199, 1547]},
  qpmeChlSpectra, qpmeChlLabels, ["QPMe", " in choloform"], "29");

absPanel({x0: 590.7, x1: 917.7, y0: 32.3, ym: 305, y1: 373.3, xDomain: [1.5, 3.597], yDomain: [-0.05, 1.05], legend: [596.7, 38.3, 103.3]},
  iqphDmfBands, iqphDmfFit, iqphDmfDataHead, iqphDmfResidual, "iQPH in DMF");
absPanel({x0: 585, x1: 918, y0: 430, ym: 706, y1: 775.7, xDomain: [1.545, 3.555], yDomain: [-0.07, 1.05], legend: [591.7, 436, 109.3]},
  qpmeDmfBands, qpmeDmfFit, qpmeDmfDataHead, qpmeDmfResidual, "QPMe in DMF");
absPanel({x0: 585, x1: 918, y0: 826.7, ym: 1106.7, y1: 1176.7, xDomain: [1.5, 3.577], yDomain: [-0.05, 1.05], legend: [591, 833.3, 135]},
  iqphChlBands, iqphChlFit, iqphChlDataHead, iqphChlResidual, "iQPH in chloroform");
absPanel({x0: 582, x1: 918, y0: 1226.7, ym: 1509.3, y1: 1581, xDomain: [1.5, 3.582], yDomain: [-0.05, 1.05], legend: [587.7, 1232.7, 142.3]},
  qpmeChlBands, qpmeChlFit, qpmeChlDataHead, qpmeChlResidual, "QPMe in chloroform");
</script>
</body></html>
